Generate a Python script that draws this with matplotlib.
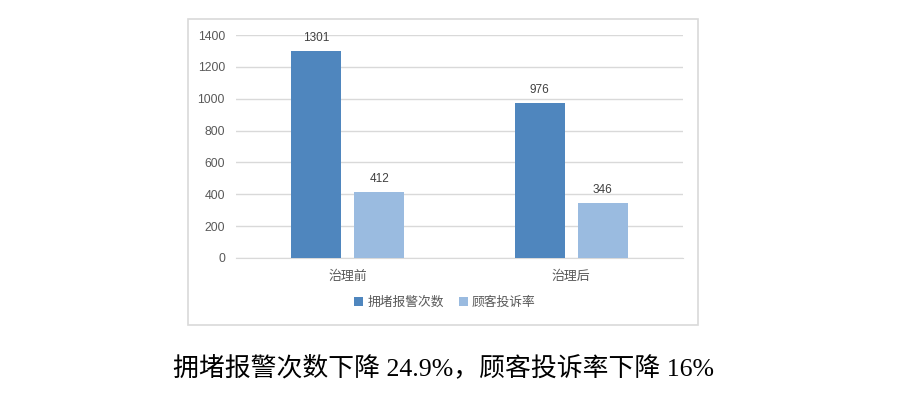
import matplotlib.pyplot as plt
import numpy as np
from matplotlib.patches import Rectangle

plt.rcParams['font.family'] = ['Liberation Sans', 'Noto Sans CJK SC', 'DejaVu Sans']

categories = ['治理前', '治理后']
series_names = ['拥堵报警次数', '顾客投诉率']
alarms = [1301, 976]
complaints = [412, 346]
colors = ['#4F86BE', '#9ABBE0']
caption = '拥堵报警次数下降 24.9%，顾客投诉率下降 16%'

W, H = 903, 395
fig = plt.figure(figsize=(W / 100, H / 100), dpi=100)

# chart frame
fig.patches.append(Rectangle((188 / W, 1 - 325 / H), (698 - 188) / W, (325 - 19) / H,
                             transform=fig.transFigure, fill=False,
                             edgecolor='#D9D9D9', linewidth=1.2))

ax = fig.add_axes([236 / W, 1 - 258 / H, (683 - 236) / W, (258 - 35) / H])

x = np.arange(len(categories))
bw = 0.224
off = 0.141
b1 = ax.bar(x - off, alarms, bw, color=colors[0], label=series_names[0], zorder=3)
b2 = ax.bar(x + off, complaints, bw, color=colors[1], label=series_names[1], zorder=3)

for bars in (b1, b2):
    for r in bars:
        ax.annotate(str(int(r.get_height())), (r.get_x() + r.get_width() / 2, r.get_height()),
                    xytext=(0, 5), textcoords='offset points', ha='center', va='bottom',
                    fontsize=8.5, color='#404040')

ax.set_xlim(-0.5, 1.5)
ax.set_ylim(0, 1400)
ax.set_yticks(range(0, 1401, 200))
ax.set_xticks(x)
ax.set_xticklabels(categories, fontsize=9.3)
ax.grid(axis='y', color='#D9D9D9', linewidth=1, zorder=0)
for s in ['top', 'right', 'left']:
    ax.spines[s].set_visible(False)
ax.spines['bottom'].set_color('#D9D9D9')
ax.tick_params(axis='both', length=0, labelcolor='#595959')
ax.tick_params(axis='y', pad=8, labelsize=8.8)
ax.tick_params(axis='x', pad=9)

ax.legend(loc='center', bbox_to_anchor=(445 / W, 1 - 303 / H), bbox_transform=fig.transFigure,
          ncol=2, frameon=False, fontsize=9.2, labelcolor='#595959',
          handlelength=0.7, handleheight=0.7, handletextpad=0.3, columnspacing=1.2)

fig.text(444 / W, 1 - 368 / H, caption, ha='center', va='center', fontsize=18.6,
         family=['Liberation Serif', 'Noto Sans CJK SC'])

plt.savefig('out.png', dpi=100)
